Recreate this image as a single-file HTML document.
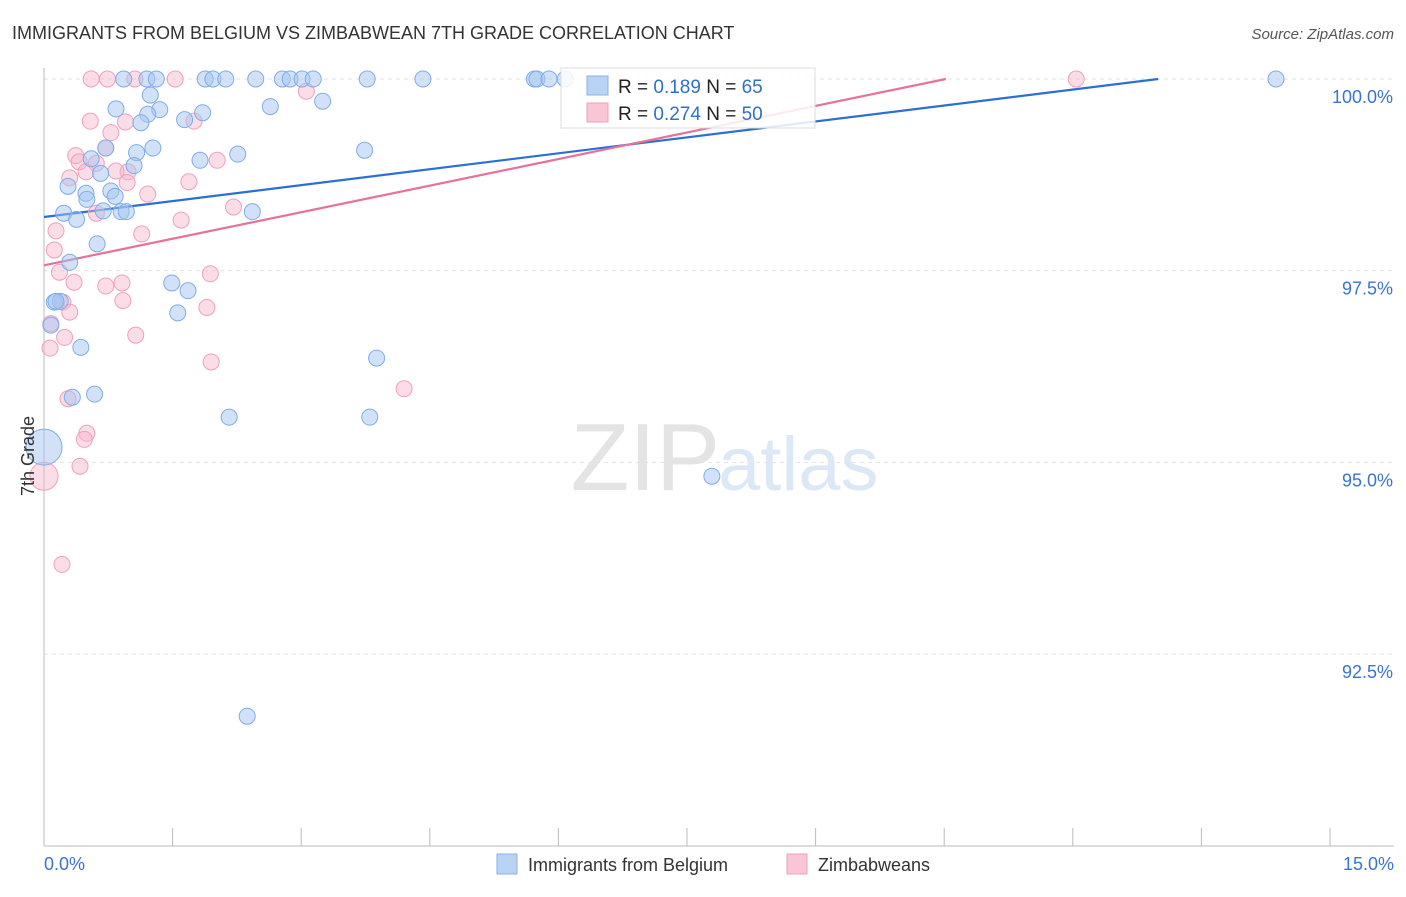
<!DOCTYPE html>
<html><head><meta charset="utf-8"><style>
body{margin:0;background:#fff;font-family:"Liberation Sans",sans-serif;}
svg text{font-family:"Liberation Sans",sans-serif;}
</style></head><body>
<svg width="1406" height="892" xmlns="http://www.w3.org/2000/svg">
<text x="12" y="39" font-size="18" fill="#333">IMMIGRANTS FROM BELGIUM VS ZIMBABWEAN 7TH GRADE CORRELATION CHART</text>
<text x="1394" y="39" font-size="15" fill="#555" font-style="italic" text-anchor="end">Source: ZipAtlas.com</text>
<text x="720" y="490" font-size="96" fill="#e4e4e4" text-anchor="end" font-family="Liberation Serif">ZIP</text>
<text x="718" y="490" font-size="76" fill="#dce8f6">atlas</text>
<g id="grid"></g><g id="axes"></g>
<g id="lines"></g><g id="pts"></g>
<text transform="translate(34,456) rotate(-90)" font-size="18" fill="#333" text-anchor="middle">7th Grade</text>
<g>
<rect x="561" y="68" width="254" height="60" fill="#fff" fill-opacity="0.85" stroke="#ddd"/>
<rect x="587" y="76" width="21" height="19" fill="#b9d3f5" stroke="#8ab2e8"/>
<rect x="587" y="103" width="21" height="19" fill="#f9c6d6" stroke="#f0a0bb"/>
<text x="618" y="93" font-size="19" fill="#222">R = <tspan fill="#2f6fd0">0.189</tspan>   N = <tspan fill="#2f6fd0">65</tspan></text>
<text x="618" y="120" font-size="19" fill="#222">R = <tspan fill="#2f6fd0">0.274</tspan>   N = <tspan fill="#2f6fd0">50</tspan></text>
</g>
<g>
<rect x="497" y="854" width="20" height="20" fill="#b9d3f5" stroke="#8ab2e8"/>
<text x="528" y="871" font-size="18" fill="#333">Immigrants from Belgium</text>
<rect x="787" y="854" width="20" height="20" fill="#f9c6d6" stroke="#f0a0bb"/>
<text x="818" y="871" font-size="18" fill="#333">Zimbabweans</text>
</g>
</svg>
<script>
const xTicks=[0,1.5,3,4.5,6,7.5,9,10.5,12,13.5,15];
const yTicks=[100,97.5,95,92.5];
const yTickLabels=["100.0%","97.5%","95.0%","92.5%"];
const blueX=[0.93,1.2,1.31,1.88,1.97,2.12,2.47,2.78,2.87,3.01,3.14,3.77,4.42,5.72,5.75,5.89,14.37,1.24,0.84,1.35,3.25,2.64,1.85,1.21,1.13,1.64,1.27,1.08,1.82,2.26,3.74,0.55,0.72,1.05,0.66,0.28,0.49,0.78,0.5,0.83,0.23,0.38,0.69,0.9,0.96,2.43,0.62,0.3,1.49,1.68,1.56,0.12,0.19,0.14,0.08,0.43,3.88,0.59,0.33,2.16,3.8,0,7.79,2.37,6.08];
const blueY=[100,100,100,100,100,100,100,100,100,100,100,100,100,100,100,100,100,99.79,99.61,99.6,99.71,99.64,99.56,99.54,99.43,99.47,99.1,99.04,98.94,99.02,99.07,98.96,99.1,98.87,98.77,98.6,98.51,98.54,98.43,98.47,98.25,98.17,98.28,98.27,98.27,98.27,97.85,97.61,97.34,97.24,96.95,97.09,97.1,97.1,96.79,96.5,96.36,95.89,95.85,95.59,95.59,95.2,94.82,91.69,100];
const blueR=Array(65).fill(8);blueR[61]=18;
const pinkX=[0.55,0.74,1.06,1.53,12.04,3.06,0.54,0.95,1.75,0.78,0.72,0.37,0.41,0.61,0.49,0.3,0.98,0.84,0.97,1.69,2.02,1.21,2.21,0.61,1.6,1.14,0.14,0.12,0.18,1.94,0.35,0.72,0.91,0.22,0.92,1.9,0.3,0.08,0.24,1.07,0.07,1.95,4.2,0.28,0.5,0.47,0.42,0,0.21];
const pinkY=[100,100,100,100,100,99.84,99.45,99.44,99.45,99.3,99.1,99.0,98.92,98.9,98.79,98.71,98.79,98.8,98.65,98.66,98.94,98.5,98.33,98.25,98.16,97.98,98.02,97.77,97.48,97.46,97.35,97.3,97.34,97.09,97.11,97.02,96.96,96.81,96.63,96.66,96.49,96.31,95.96,95.83,95.38,95.3,94.95,94.82,93.67];
const pinkR=Array(49).fill(8);pinkR[47]=14;
const blueFit=[98.2,0.1385];const pinkFit=[97.57,0.231];
const NS="http://www.w3.org/2000/svg";
const X=v=>44+(v/15)*1286, Y=v=>79+(100-v)*76.68;
function mk(t,a,p){const e=document.createElementNS(NS,t);for(const k in a)e.setAttribute(k,a[k]);p.appendChild(e);return e;}
const grid=document.getElementById('grid'),axes=document.getElementById('axes');
yTicks.forEach((t,i)=>{
 const l=mk('line',{x1:44,x2:1394,y1:Y(t),y2:Y(t),stroke:'#e2e2e2','stroke-dasharray':'4,4'},grid);
 
 
 const tx=mk('text',{x:1393,y:Y(t)+24,'font-size':18,fill:'#3b73d3','text-anchor':'end'},axes);tx.textContent=yTickLabels[i];
 
 
});
mk('line',{x1:44,x2:44,y1:68,y2:846,stroke:'#bbb'},axes);
mk('line',{x1:44,x2:1394,y1:846,y2:846,stroke:'#bbb'},axes);
xTicks.forEach(t=>{const l=mk('line',{x1:X(t),x2:X(t),y1:828,y2:846,stroke:'#bbb'},axes);
 
 });
let a=mk('text',{x:44,y:870,'font-size':18,fill:'#3b73d3'},axes);a.textContent='0.0%';


a=mk('text',{x:1394,y:870,'font-size':18,fill:'#3b73d3','text-anchor':'end'},axes);a.textContent='15.0%';


const pts=document.getElementById('pts');
function dots(xs,ys,rs,fill,st,name){xs.forEach((x,i)=>{const c=mk('circle',{cx:X(x),cy:Y(ys[i]),r:rs[i],fill:fill,stroke:st,'stroke-width':1},pts);
 
 });}
dots(pinkX,pinkY,pinkR,'rgba(246,180,202,0.45)','#f0a0bb','zimbabweans-point');
dots(blueX,blueY,blueR,'rgba(164,198,242,0.5)','#80ace8','belgium-point');
const lines=document.getElementById('lines');
function fit(f,col,name){const xe=Math.min(15,(100-f[0])/f[1]);const l=mk('line',{x1:X(0),y1:Y(f[0]),x2:X(xe),y2:Y(f[0]+f[1]*xe),stroke:col,'stroke-width':2.2},lines);
 
 }
fit(blueFit,'#2a6fd6','belgium-trend-line');
fit(pinkFit,'#e8709a','zimbabweans-trend-line');
</script>
</body></html>
